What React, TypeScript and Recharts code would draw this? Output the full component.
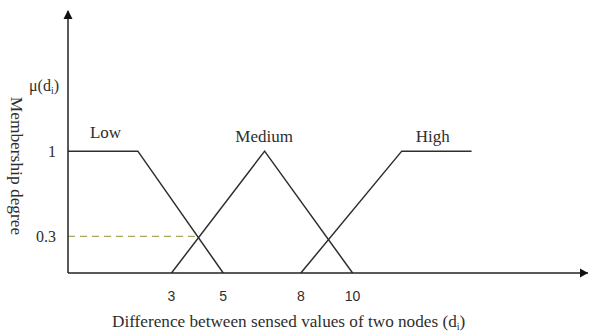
import { LineChart, Line, XAxis, YAxis, ReferenceDot } from 'recharts';

// membership functions (x = difference d_i, y = membership degree)
const lowSet = [
  { x: -1, y: 1 },
  { x: 1.7, y: 1 },
  { x: 5, y: 0 },
];
const mediumSet = [
  { x: 3, y: 0 },
  { x: 6.6, y: 1 },
  { x: 10, y: 0 },
];
const highSet = [
  { x: 8, y: 0 },
  { x: 11.9, y: 1 },
  { x: 14.6, y: 1 },
];
const cutLevel = [
  { x: -1, y: 0.3 },
  { x: 4.04, y: 0.3 },
];

const xTicks = [3, 5, 8, 10];
const yTicks = [0.3, 1, 1.54];
const setNames = [
  { name: 'Low', x: 0.45, y: 1.107 },
  { name: 'Medium', x: 6.58, y: 1.076 },
  { name: 'High', x: 13.1, y: 1.076 },
];

const SERIF = '"Liberation Serif", "Times New Roman", serif';
const SANS = '"Liberation Sans", Arial, sans-serif';
const INK = '#2e2e2e';

function YTick(props: any) {
  const { x, y, payload } = props;
  if (payload.value > 1.2) {
    return (
      <text x={x + 3} y={y} dy="0.35em" textAnchor="end" fontFamily={SERIF} fontSize={16} fill={INK}>
        μ(d<tspan fontSize={10} dy={3}>i</tspan>
        <tspan dy={-3}>)</tspan>
      </text>
    );
  }
  return (
    <text x={x} y={y} dy="0.35em" textAnchor="end" fontFamily={SERIF} fontSize={16} fill={INK}>
      {payload.value}
    </text>
  );
}

export default function App() {
  return (
    <div style={{ position: 'absolute', left: 0, top: 0, background: '#fff' }}>
      <LineChart width={589} height={336} margin={{ top: 11, right: 1, bottom: 0, left: 0 }}>
        <XAxis
          dataKey="x"
          type="number"
          domain={[-1, 19.1]}
          ticks={xTicks}
          tickLine={false}
          tickMargin={12}
          height={63}
          allowDataOverflow
          axisLine={{ stroke: '#222', strokeWidth: 1.5 }}
          tick={{ fontFamily: SANS, fontSize: 14, fill: INK }}
          label={{
            content: () => (
              <text x={112} y={327} fontFamily={SERIF} fontSize={17.2} fill={INK}>
                Difference between sensed values of two nodes (d
                <tspan fontSize={10} dy={3}>i</tspan>
                <tspan dy={-3}>)</tspan>
              </text>
            ),
          }}
        />
        <YAxis
          type="number"
          domain={[0, 2.15]}
          ticks={yTicks}
          width={68}
          tickLine={false}
          tickMargin={6}
          allowDataOverflow
          axisLine={{ stroke: '#222', strokeWidth: 1.5 }}
          tick={<YTick />}
          label={{
            content: () => (
              <text
                transform="translate(11,166) rotate(90)"
                textAnchor="middle"
                fontFamily={SERIF}
                fontSize={17.4}
                fill={INK}
              >
                Membership degree
              </text>
            ),
          }}
        />
        <Line data={cutLevel} dataKey="y" stroke="#a8a85c" strokeWidth={1.2} strokeDasharray="7 5" dot={false} isAnimationActive={false} />
        <Line data={lowSet} dataKey="y" stroke={INK} strokeWidth={1.5} dot={false} isAnimationActive={false} />
        <Line data={mediumSet} dataKey="y" stroke={INK} strokeWidth={1.5} dot={false} isAnimationActive={false} />
        <Line data={highSet} dataKey="y" stroke={INK} strokeWidth={1.5} dot={false} isAnimationActive={false} />
        {setNames.map((s) => (
          <ReferenceDot
            key={s.name}
            x={s.x}
            y={s.y}
            shape={(p: any) => (
              <text x={p.cx} y={p.cy} textAnchor="middle" fontFamily={SERIF} fontSize={17} fill={INK}>
                {s.name}
              </text>
            )}
          />
        ))}
        <ReferenceDot
          x={-1}
          y={2.15}
          shape={(p: any) => (
            <polygon points={`${p.cx},${p.cy - 1} ${p.cx - 4.5},${p.cy + 8} ${p.cx + 4.5},${p.cy + 8}`} fill="#111" />
          )}
        />
        <ReferenceDot
          x={19.1}
          y={0}
          shape={(p: any) => (
            <polygon points={`${p.cx},${p.cy} ${p.cx - 8},${p.cy - 4.5} ${p.cx - 8},${p.cy + 4.5}`} fill="#111" />
          )}
        />
      </LineChart>
    </div>
  );
}
